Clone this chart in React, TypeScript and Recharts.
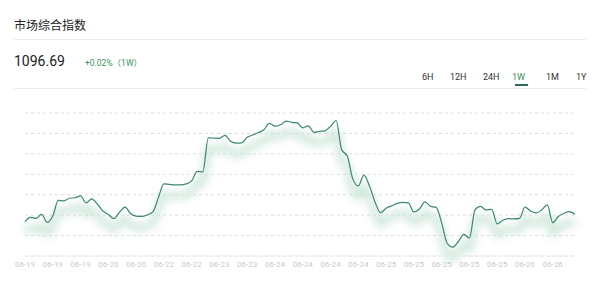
import React from "react";
import { LineChart, Line, XAxis, YAxis, CartesianGrid } from "recharts";

// Index value over one week, sampled at evenly spaced points
const values: number[] = [
  1094.91, 1095.94, 1095.69, 1096.67, 1094.71, 1096.3, 1100.1, 1099.98, 1100.64, 1100.76,
  1101.21, 1099.49, 1100.47, 1099.25, 1097.53, 1096.67, 1095.64, 1097.16, 1098.44, 1096.92,
  1096.25, 1096.18, 1096.55, 1097.28, 1100.72, 1104.15, 1104.02, 1103.9, 1103.9, 1104.15,
  1104.88, 1107.21, 1107.09, 1115.42, 1115.35, 1115.3, 1116.03, 1114.56, 1114.12, 1114.2,
  1115.54, 1116.11, 1116.72, 1117.38, 1118.98, 1118.29, 1118.61, 1119.51, 1119.22, 1119.1,
  1117.87, 1118.36, 1116.77, 1116.99, 1117.14, 1118.24, 1119.66, 1112.48, 1111.01, 1105.37,
  1103.66, 1106.28, 1103.66, 1099.74, 1097.11, 1098.19, 1098.76, 1099.37, 1099.61, 1099.49,
  1097.28, 1098.02, 1099.74, 1098.63, 1098.39, 1094.59, 1089.56, 1088.66, 1090.05, 1091.77,
  1090.91, 1097.77, 1098.63, 1097.77, 1097.9, 1094.34, 1095.25, 1095.64, 1095.57, 1095.69,
  1098.44, 1097.53, 1097.04, 1097.77, 1099.0, 1094.66, 1096.18, 1096.92, 1097.36, 1096.69,
];

// One date label for every fifth sample
const tickLabels: string[] = [
  "06-19", "06-19", "06-19", "06-20", "06-20", "06-22", "06-22", "06-23", "06-23", "06-24",
  "06-24", "06-24", "06-24", "06-25", "06-25", "06-25", "06-25", "06-25", "06-26", "06-26",
];

const ranges: string[] = ["6H", "12H", "24H", "1W", "1M", "1Y"];
const activeRange = "1W";
const title = "市场综合指数";
const lastValue = "1096.69";
const change = "+0.02%（1W）";

const yTicks: number[] = [1086.5, 1091.5, 1096.5, 1101.5, 1106.5, 1111.5, 1116.5, 1121.5];
const LABEL_STEP = 5;

const data = values.map((v, i) => ({ i, v }));
const xTicks = tickLabels.map((_, k) => k * LABEL_STEP);

const GREEN = "#3d876b";
const sans = "Roboto, 'Noto Sans CJK SC', sans-serif";

const rangeX: Record<string, number> = { "6H": 422, "12H": 450, "24H": 483, "1W": 512, "1M": 546, "1Y": 576 };

export default function App() {
  return (
    <div style={{ position: "absolute", left: 0, top: 0, width: 600, height: 293, background: "#fff", fontFamily: sans, overflow: "hidden" }}>
      <style>{`.glow-line { filter: blur(4px); transform: translateY(11px); }`}</style>
      <div style={{ position: "absolute", left: 14, top: 17, fontSize: 12, color: "#222", fontFamily: "'Noto Sans CJK SC', sans-serif", lineHeight: "16px" }}>
        {title}
      </div>
      <div style={{ position: "absolute", left: 14, top: 39, width: 572, height: 1, background: "#eeeeee" }} />
      <div style={{ position: "absolute", left: 14, top: 52, fontSize: 14, color: "#222", lineHeight: "18px" }}>
        {lastValue}
      </div>
      <div style={{ position: "absolute", left: 85, top: 57, fontSize: 8.5, color: "#3a8f5c", lineHeight: "12px", fontFamily: "Roboto, 'Noto Sans CJK SC', sans-serif" }}>
        {change}
      </div>
      {ranges.map((r) => (
        <div
          key={r}
          style={{
            position: "absolute",
            left: rangeX[r],
            top: 71,
            fontSize: 9,
            lineHeight: "12px",
            color: r === activeRange ? "#3a8f5c" : "#333",
          }}
        >
          {r}
          {r === activeRange && (
            <div style={{ position: "absolute", left: 3, top: 13, width: 13, height: 2, background: "#2f6e50" }} />
          )}
        </div>
      ))}
      <div style={{ position: "absolute", left: 14, top: 88, width: 572, height: 1, background: "#eeeeee" }} />
      <div style={{ position: "absolute", left: 0, top: 0 }}>
        <LineChart width={600} height={293} data={data} margin={{ top: 113, right: 25, bottom: 7, left: 25 }}>
          <CartesianGrid vertical={false} stroke="#dcdcdc" strokeDasharray="3 3" />
          <YAxis hide domain={[yTicks[0], yTicks[yTicks.length - 1]]} ticks={yTicks} interval={0} type="number" />
          <XAxis
            dataKey="i"
            type="number"
            domain={[0, values.length - 1]}
            ticks={xTicks}
            interval={0}
            tickFormatter={(v: number) => tickLabels[Math.round(v / LABEL_STEP)]}
            tickLine={false}
            tickSize={0}
            tickMargin={5}
            height={30}
            axisLine={{ stroke: "#eeeeee" }}
            tick={{ fontSize: 8, fill: "#c9c9c9", fontFamily: sans }}
          />
          <Line
            dataKey="v"
            type="monotone"
            stroke="#cde6da"
            strokeWidth={7}
            dot={false}
            className="glow-line"
            isAnimationActive={false}
          />
          <Line dataKey="v" type="monotone" stroke={GREEN} strokeWidth={1.2} dot={false} isAnimationActive={false} />
        </LineChart>
      </div>
    </div>
  );
}
